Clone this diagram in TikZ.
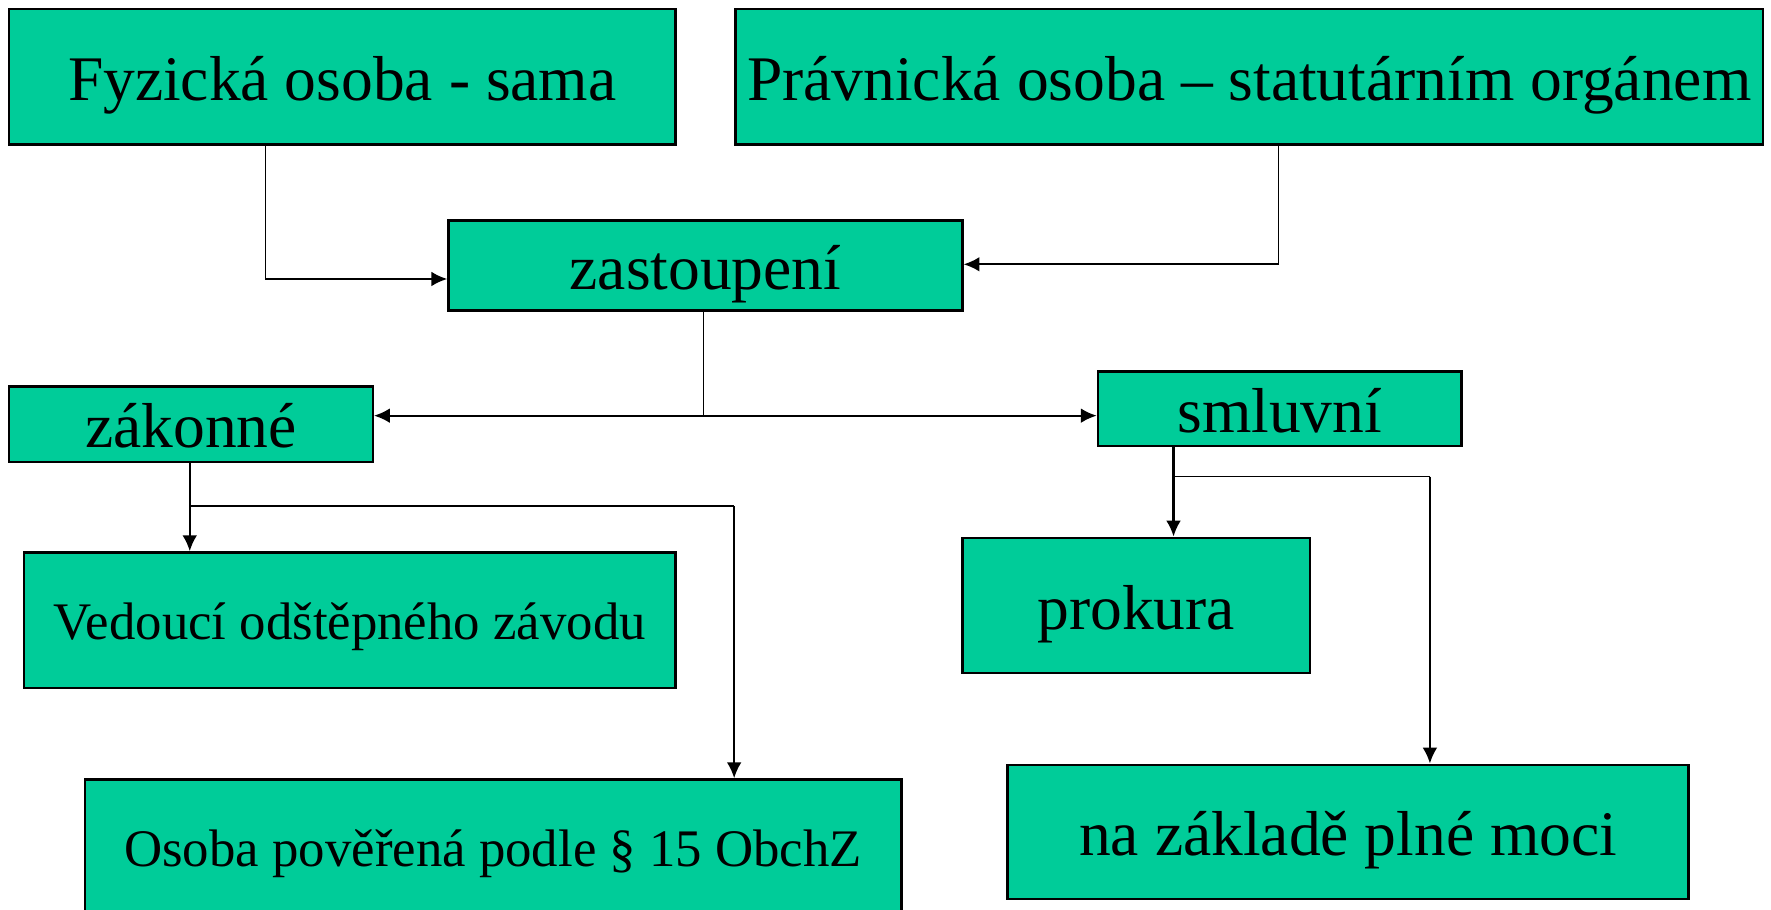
\documentclass[tikz,border=0pt]{standalone}
\usepackage{fontspec}
\setmainfont{Liberation Serif}
\usepackage{tikz}
\usetikzlibrary{positioning,arrows.meta}
\definecolor{boxgreen}{RGB}{0,204,153}
\tikzset{>={Latex[length=0.14cm,width=0.13cm]}}

\begin{document}
\begin{tikzpicture}
    \tikzset{%
      segm/.style={draw, fill=boxgreen, anchor=north west, inner sep=0pt, line width=0.6pt,
        font=\fontsize{16}{19}\selectfont, text height=0.42cm, text depth=0cm},
      small/.style={segm, font=\fontsize{13.3}{16}\selectfont, text height=0.34cm},
      conn/.style={line width=0.55pt},
      thinconn/.style={line width=0.35pt}
      }
    \useasboundingbox (0,0) rectangle (15.68,-8.05);
    \clip (0,0) rectangle (15.68,-8.05);

    \node [segm, minimum width=5.90cm, minimum height=1.20cm] (Zfyz) at (0.07,-0.07) {Fyzická osoba - sama};
    \node [segm, minimum width=9.10cm, minimum height=1.20cm] (Zprav) at (6.50,-0.07) {Právnická osoba – statutárním orgánem};
    \node [segm, minimum width=4.55cm, minimum height=0.80cm] (Zzast) at (3.96,-1.94) {zastoupení};

    \node [segm, minimum width=3.22cm, minimum height=0.67cm] (Zzak) at (0.07,-3.41) {zákonné};
    \node [segm, minimum width=3.22cm, minimum height=0.66cm] (Zsml) at (9.71,-3.28) {smluvní};

    \node [small, minimum width=5.77cm, minimum height=1.20cm] (Zved) at (0.20,-4.88) {Vedoucí odštěpného závodu};
    \node [small, minimum width=7.23cm, minimum height=1.20cm] (Zpov) at (0.74,-6.89) {Osoba pověřená podle § 15 ObchZ};
    \node [segm, minimum width=3.08cm, minimum height=1.20cm] (Zprok) at (8.51,-4.75) {prokura};
    \node [segm, minimum width=6.03cm, minimum height=1.19cm] (Zplna) at (8.91,-6.76) {na základě plné moci};

    % bends
    \coordinate (Kfyz) at (2.35,-2.47);
    \coordinate (Kprav) at (11.32,-2.34);
    \coordinate (Kzast) at (6.23,-3.68);
    \coordinate (Kzak) at (1.68,-4.48);
    \coordinate (Kpov) at (6.50,-4.48);
    \coordinate (Ksml) at (10.39,-4.22);
    \coordinate (Kplna) at (12.66,-4.22);

    \draw [thinconn] (Zfyz.south -| Kfyz) -- (Kfyz);
    \draw [conn, ->] (Kfyz) -- (Zzast.west |- Kfyz);
    \draw [thinconn] (Zprav.south -| Kprav) -- (Kprav);
    \draw [conn, ->] (Kprav) -- (Zzast.east |- Kprav);

    \draw [thinconn] (Zzast.south -| Kzast) -- (Kzast);
    \draw [conn, ->] (Kzast) -- (Zzak.east |- Kzast);
    \draw [conn, ->] (Kzast) -- (Zsml.west |- Kzast);

    \draw [conn, ->] (Zzak.south -| Kzak) -- (Zved.north -| Kzak);
    \draw [thinconn] (Kzak) -- (Kpov);
    \draw [conn, ->] (Kpov) -- (Zpov.north -| Kpov);

    \draw [conn, ->] (Zsml.south -| Ksml) -- (Zprok.north -| Ksml);
    \draw [thinconn] (Ksml) -- (Kplna);
    \draw [conn, ->] (Kplna) -- (Zplna.north -| Kplna);

  \end{tikzpicture}
\end{document}
